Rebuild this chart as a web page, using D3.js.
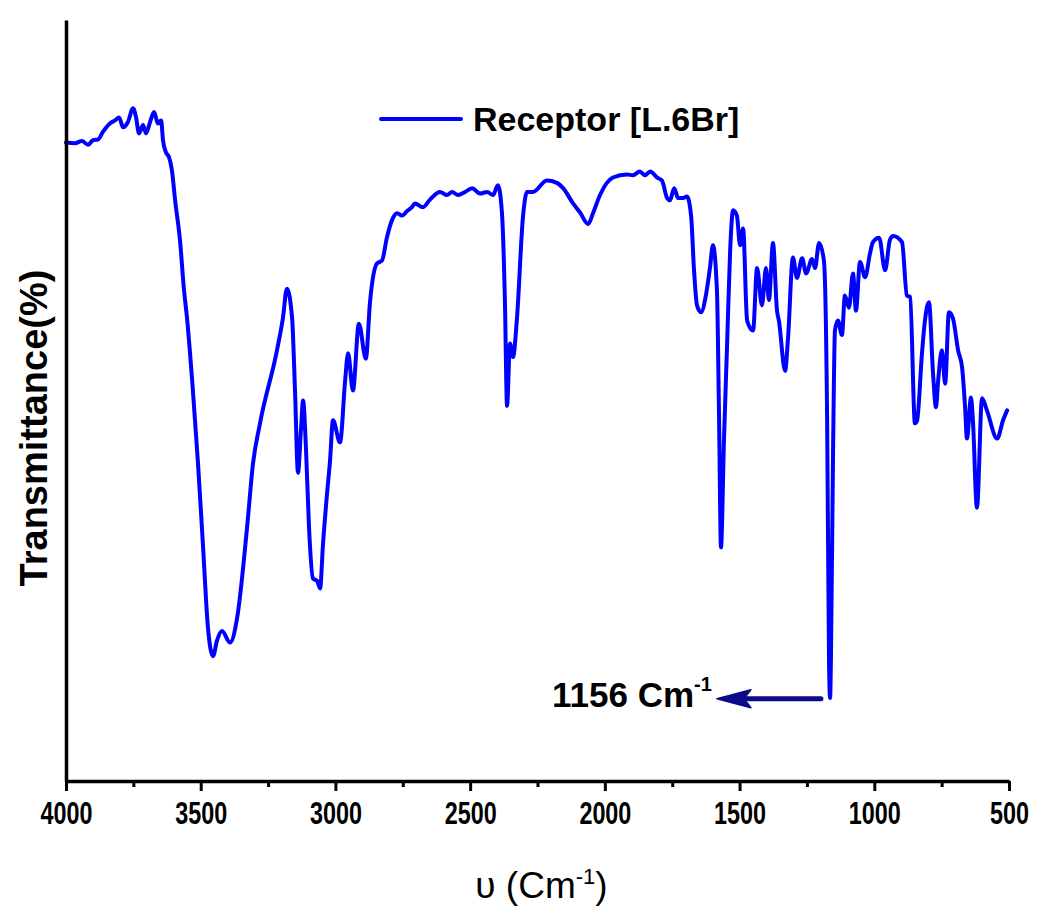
<!DOCTYPE html>
<html>
<head>
<meta charset="utf-8">
<script src="https://cdn.jsdelivr.net/npm/d3@7"></script>
<style>
  body { margin: 0; background: #fff; }
  svg { display: block; }
</style>
</head>
<body>
<svg id="chart" width="1042" height="907"></svg>
<script>
// wavenumber (cm-1), high to low
const wavenumbers = [
  4000, 3967, 3941, 3918, 3900, 3881, 3863, 3837, 3818, 3803, 3788, 3770, 3751, 3740, 3729, 3714,
  3703, 3688, 3673, 3659, 3647, 3640, 3629, 3618, 3607, 3595, 3577, 3562, 3551, 3529, 3510, 3492,
  3473, 3454, 3440, 3421, 3391, 3365, 3328, 3306, 3280, 3217, 3195, 3180, 3161, 3150, 3139, 3128,
  3120, 3109, 3098, 3083, 3068, 3057, 3046, 3031, 3020, 3009, 2983, 2964, 2953, 2935, 2913, 2887,
  2872, 2846, 2827, 2809, 2790, 2771, 2753, 2734, 2716, 2705, 2675, 2649, 2612, 2586, 2567, 2545,
  2519, 2493, 2463, 2437, 2415, 2397, 2382, 2371, 2363, 2352, 2341, 2326, 2304, 2289, 2267, 2215,
  2178, 2155, 2118, 2092, 2062, 2044, 2018, 1970, 1918, 1896, 1870, 1851, 1832, 1806, 1788, 1769,
  1758, 1743, 1728, 1710, 1695, 1680, 1669, 1658, 1643, 1625, 1610, 1599, 1584, 1576, 1569, 1558,
  1547, 1535, 1524, 1510, 1498, 1487, 1472, 1450, 1435, 1417, 1402, 1391, 1376, 1361, 1354, 1331,
  1320, 1302, 1287, 1268, 1253, 1231, 1220, 1205, 1187, 1175, 1168, 1164, 1161, 1153, 1146, 1135,
  1120, 1109, 1094, 1079, 1068, 1053, 1034, 1016, 1005, 982, 960, 942, 930, 897, 879, 867,
  849, 841, 823, 812, 797, 782, 771, 763, 749, 737, 723, 708, 689, 674, 663, 656,
  641, 634, 619, 600, 582, 544, 522, 507
];

// transmittance (%) at each wavenumber above
const transmittance = [
  83.9, 83.8, 84.1, 83.6, 84.2, 84.3, 85.3, 86.4, 86.8, 87.2, 85.9, 86.6, 88.4, 87.2, 85.1, 86.2,
  85.1, 86.6, 87.9, 86.4, 86.8, 84.2, 82.6, 82.0, 80.3, 76.3, 71.1, 64.5, 60.9, 51.3, 41.7, 31.2,
  20.1, 16.4, 18.4, 19.7, 18.2, 21.4, 33.3, 41.7, 47.0, 56.6, 60.8, 64.7, 60.9, 51.3, 40.5, 46.1,
  50.0, 43.4, 33.3, 26.6, 26.3, 25.3, 31.2, 37.8, 42.1, 47.4, 44.5, 52.6, 56.2, 51.3, 60.1, 55.5,
  62.8, 68.0, 68.4, 71.4, 73.7, 74.6, 74.3, 74.9, 75.4, 75.9, 75.4, 76.4, 77.4, 77.0, 77.4, 77.0,
  77.4, 77.9, 77.2, 77.4, 77.0, 78.3, 74.7, 63.2, 49.3, 57.5, 55.7, 60.9, 74.1, 77.4, 77.4, 78.9,
  78.6, 77.9, 75.9, 74.7, 73.2, 74.6, 77.0, 79.3, 79.7, 79.6, 80.1, 79.6, 80.1, 79.3, 78.9, 76.6,
  76.3, 77.9, 76.6, 76.6, 76.8, 74.3, 67.1, 62.5, 61.6, 63.8, 67.4, 70.4, 64.5, 47.4, 30.7, 44.7,
  56.6, 69.7, 75.0, 74.3, 70.4, 72.6, 60.5, 59.2, 67.4, 62.5, 67.4, 63.2, 70.7, 61.8, 60.5, 53.9,
  58.3, 68.8, 66.1, 68.7, 66.7, 68.6, 67.4, 70.7, 68.4, 47.4, 15.8, 10.9, 15.8, 43.4, 59.2, 60.5,
  58.6, 63.8, 62.2, 66.7, 61.8, 68.2, 66.2, 69.3, 70.8, 71.4, 67.1, 71.1, 71.6, 70.8, 63.8, 63.6,
  47.0, 47.4, 56.2, 60.5, 62.9, 53.6, 49.1, 52.6, 56.6, 52.2, 61.6, 60.8, 56.6, 54.3, 49.1, 45.0,
  50.4, 47.4, 35.9, 50.3, 48.7, 45.0, 47.4, 48.7
];

const majorTicks = [4000, 3500, 3000, 2500, 2000, 1500, 1000, 500];
const minorTicks = [3750, 3250, 2750, 2250, 1750, 1250, 750];
const seriesName = "Receptor [L.6Br]";
const peakLabel = "1156 Cm";

const margin = { top: 20, left: 66 };
const width = 943;
const height = 761;

const svg = d3.select("#chart");
const g = svg.append("g").attr("transform", `translate(${margin.left},${margin.top})`);

const xScale = d3.scaleLinear().domain([4000, 500]).range([0, width]);
const yScale = d3.scaleLinear().domain([0, 100]).range([height, 0]);

const data = wavenumbers.map((w, i) => ({ w, t: transmittance[i] }));

// spectrum
g.append("path")
  .datum(data)
  .attr("fill", "none")
  .attr("stroke", "#0000ff")
  .attr("stroke-width", 4)
  .attr("stroke-linejoin", "round")
  .attr("stroke-linecap", "round")
  .attr("d", d3.line()
    .x((d) => xScale(d.w))
    .y((d) => yScale(d.t))
    .curve(d3.curveMonotoneX));

// axes
const xAxis = d3.axisBottom(xScale)
  .tickValues(majorTicks)
  .tickFormat(d3.format("d"))
  .tickSize(10)
  .tickSizeOuter(0)
  .tickPadding(10);

const xg = g.append("g")
  .attr("transform", `translate(0,${height})`)
  .call(xAxis);
xg.select(".domain").attr("stroke-width", 3.5);
xg.selectAll(".tick line").attr("stroke-width", 3);
xg.selectAll(".tick text")
  .attr("font-family", "'Liberation Sans', Arial, sans-serif")
  .attr("font-weight", "bold")
  .attr("font-size", 32)
  .attr("fill", "#000")
  .each(function () {
    // squeeze to the narrow look of the original labels
    const len = this.getComputedTextLength();
    d3.select(this).attr("textLength", len * 0.73).attr("lengthAdjust", "spacingAndGlyphs");
  });

g.append("g")
  .attr("transform", `translate(0,${height})`)
  .call(d3.axisBottom(xScale).tickValues(minorTicks).tickSize(6).tickFormat(""))
  .call((a) => a.select(".domain").remove())
  .selectAll(".tick line").attr("stroke-width", 3);

const yg = g.append("g").call(d3.axisLeft(yScale).tickValues([]).tickSizeOuter(0));
yg.select(".domain").attr("stroke-width", 3.5);

// axis titles
const xTitle = svg.append("text")
  .attr("x", margin.left + width / 2 + 4)
  .attr("y", 898)
  .attr("text-anchor", "middle")
  .attr("font-family", "'Liberation Sans', Arial, sans-serif")
  .attr("font-size", 37);
xTitle.append("tspan").text("υ (Cm");
xTitle.append("tspan").attr("dy", -14).attr("font-size", 22).text("-1");
xTitle.append("tspan").attr("dy", 14).text(")");

svg.append("text")
  .attr("transform", `translate(47,${margin.top + 408}) rotate(-90)`)
  .attr("text-anchor", "middle")
  .attr("font-family", "'Liberation Sans', Arial, sans-serif")
  .attr("font-weight", "bold")
  .attr("font-size", 38)
  .text("Transmittance(%)");

// legend
const legend = svg.append("g").attr("transform", "translate(381,119)");
legend.append("line")
  .attr("x1", 0).attr("x2", 80)
  .attr("stroke", "#0000ff").attr("stroke-width", 4).attr("stroke-linecap", "round");
legend.append("text")
  .attr("x", 92).attr("y", 12)
  .attr("font-family", "'Liberation Sans', Arial, sans-serif")
  .attr("font-weight", "bold")
  .attr("font-size", 34)
  .text(seriesName);

// peak annotation with arrow
const arrowFrom = 1198;
const arrowTo = 1584;
const arrowT = 10.8;
const ax0 = xScale(arrowFrom);
const ax1 = xScale(arrowTo);
const ay = yScale(arrowT);
const arrowColor = "#0a0a8a";

g.append("line")
  .attr("x1", ax0).attr("y1", ay)
  .attr("x2", ax1 + 26).attr("y2", ay)
  .attr("stroke", arrowColor).attr("stroke-width", 5)
  .attr("stroke-linecap", "round");

g.append("path")
  .attr("d", `M${ax1},${ay} L${ax1 + 34},${ay - 9} L${ax1 + 27},${ay} L${ax1 + 34},${ay + 9} Z`)
  .attr("fill", arrowColor)
  .attr("stroke", arrowColor)
  .attr("stroke-width", 1.5)
  .attr("stroke-linejoin", "round");

const ann = g.append("text")
  .attr("x", xScale(2196))
  .attr("y", ay + 8)
  .attr("font-family", "'Liberation Sans', Arial, sans-serif")
  .attr("font-weight", "bold")
  .attr("font-size", 35);
ann.append("tspan").text(peakLabel);
ann.append("tspan").attr("dy", -16).attr("font-size", 20).text("-1");
</script>
</body>
</html>
